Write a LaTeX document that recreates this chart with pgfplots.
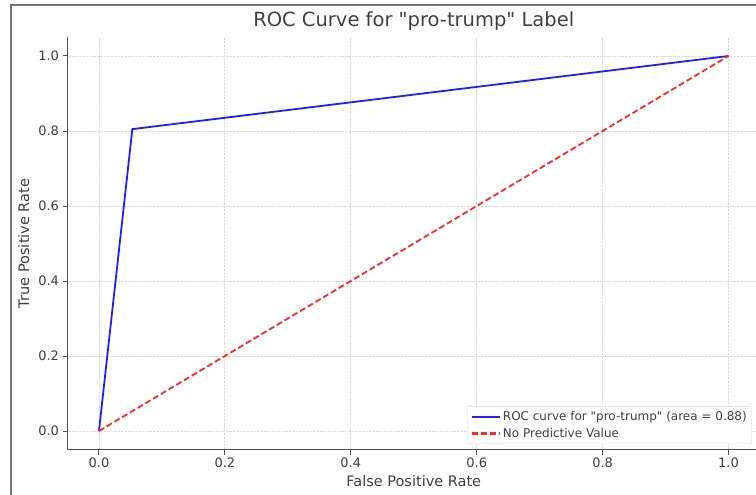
\documentclass[border=0pt]{standalone}
\usepackage{pgfplots}
\pgfplotsset{compat=1.18}
\usepackage{fontspec}
\setmainfont{DejaVu Sans}[Ligatures=TeXOff]
\definecolor{txt}{HTML}{404040}
\definecolor{spine}{HTML}{505050}
\definecolor{roc}{RGB}{30,30,255}
\definecolor{npv}{RGB}{255,40,40}
\begin{document}
\begin{tikzpicture}
\clip (0pt,0pt) rectangle (756pt,-495pt);
\useasboundingbox (0pt,0pt) rectangle (756pt,-495pt);
\draw[spine!80, line width=1.4pt] (11pt,-495pt) -- (11pt,-5pt) -- (760pt,-5pt);
\begin{axis}[
  at={(67.5pt,-449.75pt)}, anchor=south west,
  scale only axis, width=692.5pt, height=412.5pt,
  xmin=-0.05, xmax=1.05, ymin=-0.05, ymax=1.05,
  axis x line*=bottom, axis y line*=left,
  axis line style={-, draw=spine, line width=1.2pt},
  xtick={0,0.2,...,1.0}, ytick={0,0.2,...,1.0},
  xticklabel style={/pgf/number format/.cd, fixed, fixed zerofill, precision=1},
  yticklabel style={/pgf/number format/.cd, fixed, fixed zerofill, precision=1},
  /pgf/number format/assume math mode=true,
  ticklabel style={font=\fontsize{13}{15}\selectfont, text=txt},
  tick align=outside, major tick length=5pt,
  tick style={draw=spine, line width=1pt},
  grid=major, major grid style={densely dotted, gray!28, line width=0.8pt},
  title={ROC Curve for "pro-trump" Label},
  title style={font=\fontsize{19.5}{22}\selectfont, text=txt, yshift=-3pt},
  xlabel={False Positive Rate}, ylabel={True Positive Rate},
  label style={font=\fontsize{14.5}{16}\selectfont, text=txt},
  ylabel style={yshift=2pt},
  legend style={at={(0.9884,0.0139)}, anchor=south east,
    font=\fontsize{12}{14}\selectfont\color{txt},
    draw=gray!30, rounded corners=2pt, fill=white,
    row sep=2pt, inner sep=3pt},
  legend cell align=left,
  legend image code/.code={\draw[#1, line width=2.2pt] (0pt,0pt) -- (28pt,0pt);},
]
\addplot[color=roc, line width=1.8pt] coordinates {(0,0) (0.053,0.805) (1,1)};
\addlegendentry{ROC curve for "pro-trump" (area = 0.88)}
\addplot[color=npv, line width=1.8pt, dash pattern=on 6pt off 3pt] coordinates {(0,0) (1,1)};
\addlegendentry{No Predictive Value}
\end{axis}
\end{tikzpicture}
\end{document}
